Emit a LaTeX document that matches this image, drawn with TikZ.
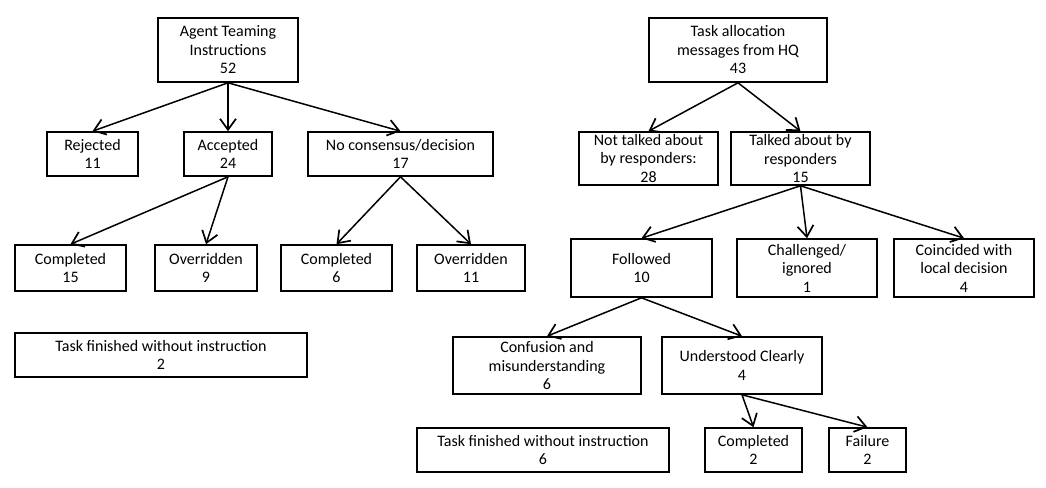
\documentclass[tikz,border=0pt]{standalone}
\usepackage{fontspec}
\setmainfont{Carlito}
\usetikzlibrary{arrows.meta}

\tikzset{
  box/.style={draw, line width=1.6pt, align=center, inner sep=0pt,
    font=\fontsize{16}{18.5}\selectfont},
  link/.style={line width=1.5pt, -{Straight Barb[length=11pt,width=16pt,line width=1.7pt]}}
}

\begin{document}
\begin{tikzpicture}[x=1pt,y=-1pt]
                \useasboundingbox (0,0) rectangle (1046,487);

                \node [box, minimum width=140pt, minimum height=64pt] (agent) at (228,50) {Agent Teaming\\Instructions\\52};
                \node [box, minimum width=91pt, minimum height=44pt] (rejected) at (92.5,154) {Rejected\\11};
                \node [box, minimum width=88pt, minimum height=44pt] (accepted) at (228,154) {Accepted\\24};
                \node [box, minimum width=185pt, minimum height=44pt] (noconsensus) at (400.5,154) {No consensus/decision\\17};
                \node [box, minimum width=111pt, minimum height=46pt] (acccompleted) at (70.5,268) {Completed\\15};
                \node [box, minimum width=102pt, minimum height=46pt] (accoverridden) at (206,268) {Overridden\\9};
                \node [box, minimum width=111pt, minimum height=46pt] (nocompleted) at (336.5,268) {Completed\\6};
                \node [box, minimum width=108pt, minimum height=46pt] (nooverridden) at (471,268) {Overridden\\11};
                \node [box, minimum width=292pt, minimum height=44pt] (agentfinished) at (161,355) {Task finished without instruction\\2};

                \node [box, minimum width=178pt, minimum height=64pt] (hq) at (738,50) {Task allocation\\messages from HQ\\43};
                \node [box, minimum width=139pt, minimum height=53pt] (nottalked) at (648.5,158.5) {Not talked about\\by responders:\\28};
                \node [box, minimum width=139pt, minimum height=53pt] (talked) at (800.5,158.5) {Talked about by\\responders\\15};
                \node [box, minimum width=141pt, minimum height=58pt] (followed) at (641.5,268) {Followed\\10};
                \node [box, minimum width=140pt, minimum height=58pt] (challenged) at (807,268) {Challenged/\\ignored\\1};
                \node [box, minimum width=140pt, minimum height=58pt] (coincided) at (964,268) {Coincided with\\local decision\\4};
                \node [box, minimum width=188pt, minimum height=57pt] (confusion) at (547,365.5) {Confusion and\\misunderstanding\\6};
                \node [box, minimum width=160pt, minimum height=57pt] (understood) at (742,365.5) {Understood Clearly\\4};
                \node [box, minimum width=252pt, minimum height=44pt] (hqfinished) at (543,450) {Task finished without instruction\\6};
                \node [box, minimum width=97pt, minimum height=44pt] (hqcompleted) at (753.5,450) {Completed\\2};
                \node [box, minimum width=77pt, minimum height=44pt] (failure) at (867.5,450) {Failure\\2};

                \draw [link] (agent.south) -- (rejected.north);
                \draw [link] (agent.south) -- (accepted.north);
                \draw [link] (agent.south) -- (noconsensus.north);
                \draw [link] (accepted.south) -- (acccompleted.north);
                \draw [link] (accepted.south) -- (accoverridden.north);
                \draw [link] (noconsensus.south) -- (nocompleted.north);
                \draw [link] (noconsensus.south) -- (nooverridden.north);

                \draw [link] (hq.south) -- (nottalked.north);
                \draw [link] (hq.south) -- (talked.north);
                \draw [link] (talked.south) -- (followed.north);
                \draw [link] (talked.south) -- (challenged.north);
                \draw [link] (talked.south) -- (coincided.north);
                \draw [link] (followed.south) -- (confusion.north);
                \draw [link] (followed.south) -- (understood.north);
                \draw [link] (understood.south) -- (hqcompleted.north);
                \draw [link] (understood.south) -- (failure.north);

                \end{tikzpicture}
\end{document}
